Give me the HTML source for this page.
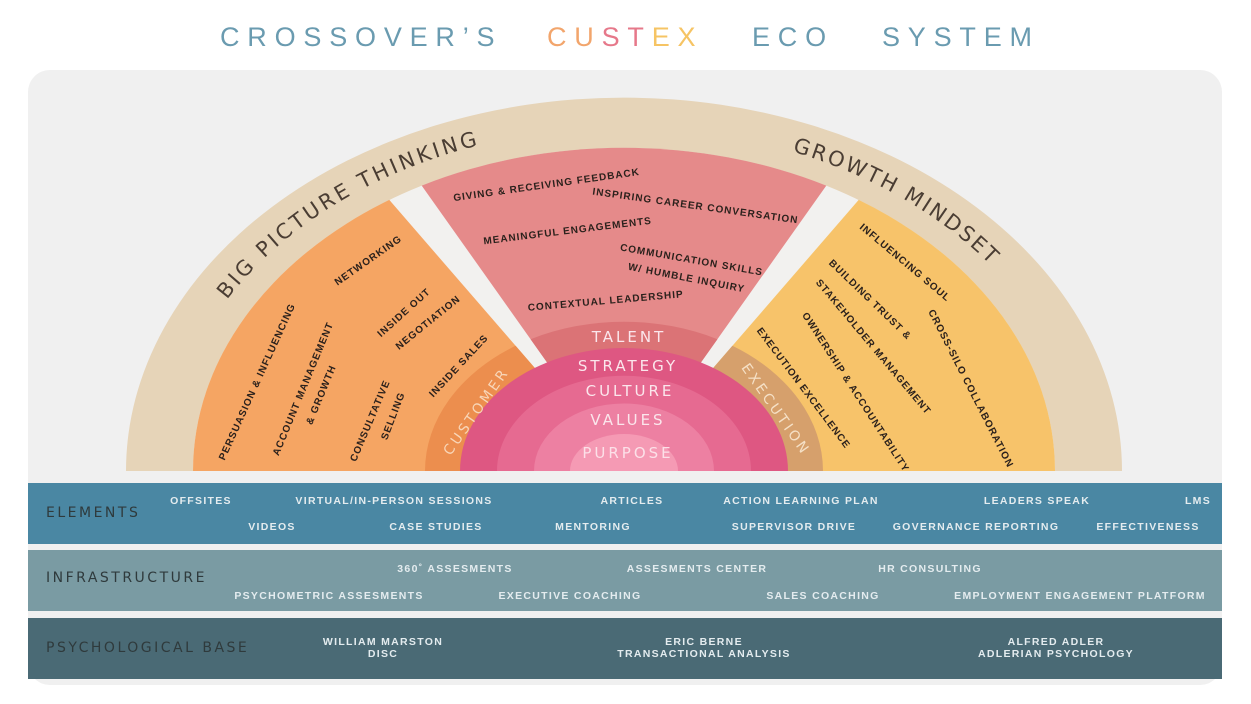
<!DOCTYPE html>
<html><head><meta charset="utf-8"><style>
html,body{margin:0;padding:0;background:#fff;}
svg{display:block;}
.t{font-family:"Liberation Sans",sans-serif;font-weight:bold;font-size:10px;letter-spacing:1px;fill:#2b211c;text-anchor:middle;}
.h{font-family:"DejaVu Sans","Liberation Sans",sans-serif;text-anchor:middle;}
.b{font-family:"Liberation Sans",sans-serif;font-weight:bold;font-size:10.5px;letter-spacing:1.3px;fill:#e4ecef;text-anchor:middle;}
.bl{font-family:"DejaVu Sans","Liberation Sans",sans-serif;font-size:14px;letter-spacing:2.5px;fill:#2f3a3c;}
</style></head><body>
<svg width="1251" height="704" viewBox="0 0 1251 704" xmlns="http://www.w3.org/2000/svg">
<text x="220" y="46" font-family="Liberation Sans, sans-serif" font-size="27" letter-spacing="7.8" fill="#6a9bb0">CROSSOVER’S</text>
<text x="547" y="46" font-family="Liberation Sans, sans-serif" font-size="27" letter-spacing="7.8"><tspan fill="#f2a56c">CU</tspan><tspan fill="#e6788a">ST</tspan><tspan fill="#f6c464">EX</tspan></text>
<text x="752" y="46" font-family="Liberation Sans, sans-serif" font-size="27" letter-spacing="7.8" fill="#6a9bb0">ECO</text>
<text x="882" y="46" font-family="Liberation Sans, sans-serif" font-size="27" letter-spacing="7.8" fill="#6a9bb0">SYSTEM</text>

<rect x="28" y="70" width="1194" height="615" rx="22" fill="#f0f0f0"/>

<path d="M126,471 A498 373.5 0 0 1 1122,471 Z" fill="#e6d4b8"/>
<path d="M193,471 A431 323.25 0 0 1 1055,471 Z" fill="#f2f1ef"/>
<path d="M624,471 L193,471 A431 323.25 0 0 1 389.3,199.9 Z" fill="#f5a563"/>
<path d="M624,471 L421.7,185.6 A431 323.25 0 0 1 826.3,185.6 Z" fill="#e58a8a"/>
<path d="M624,471 L858.7,199.9 A431 323.25 0 0 1 1055,471 Z" fill="#f7c36a"/>
<path d="M624,471 L425,471 A199 149.25 0 0 1 515.6,345.8 Z" fill="#ec8e4e"/>
<path d="M624,471 L530.6,339.2 A199 149.25 0 0 1 717.4,339.2 Z" fill="#db7376"/>
<path d="M624,471 L732.4,345.8 A199 149.25 0 0 1 823,471 Z" fill="#d6a06c"/>
<path d="M460,471 A164 123 0 0 1 788,471 Z" fill="#de5782"/>
<path d="M497,471 A127 95.25 0 0 1 751,471 Z" fill="#e66a91"/>
<path d="M534,471 A90 67.5 0 0 1 714,471 Z" fill="#ed80a2"/>
<path d="M570,471 A54 37 0 0 1 678,471 Z" fill="#f59ab4"/>

<defs><path id="ea" d="M166,471 A458 343.5 0 0 1 1082,471"/></defs>
<text class="h" font-size="21" fill="#4a3d33"><textPath href="#ea" startOffset="335" textLength="300" lengthAdjust="spacing">BIG PICTURE THINKING</textPath></text>
<text class="h" font-size="21" fill="#4a3d33"><textPath href="#ea" startOffset="918" textLength="230" lengthAdjust="spacing">GROWTH MINDSET</textPath></text>

<text class="t" transform="translate(370,263) rotate(-35)">NETWORKING</text>
<text class="t" transform="translate(260,383) rotate(-65.5)">PERSUASION &amp; INFLUENCING</text>
<text class="t" transform="translate(306,390) rotate(-67.5)">ACCOUNT MANAGEMENT</text>
<text class="t" transform="translate(324,396) rotate(-67.5)">&amp; GROWTH</text>
<text class="t" transform="translate(406,315) rotate(-42)">INSIDE OUT</text>
<text class="t" transform="translate(430,325) rotate(-39)">NEGOTIATION</text>
<text class="t" transform="translate(373,422) rotate(-67)">CONSULTATIVE</text>
<text class="t" transform="translate(396,417) rotate(-69)">SELLING</text>
<text class="t" transform="translate(461,368) rotate(-47)">INSIDE SALES</text>
<text class="h" font-size="14" letter-spacing="3" fill="#f8d6b8" transform="translate(480,414) rotate(-55)">CUSTOMER</text>

<text class="t" transform="translate(547,188) rotate(-8)">GIVING &amp; RECEIVING FEEDBACK</text>
<text class="t" transform="translate(695,209) rotate(8)">INSPIRING CAREER CONVERSATION</text>
<text class="t" transform="translate(568,234) rotate(-7)">MEANINGFUL ENGAGEMENTS</text>
<text class="t" transform="translate(691,263) rotate(10)">COMMUNICATION SKILLS</text>
<text class="t" transform="translate(686,281) rotate(11)">W/ HUMBLE INQUIRY</text>
<text class="t" transform="translate(606,304) rotate(-5)">CONTEXTUAL LEADERSHIP</text>

<text class="t" transform="translate(903,265) rotate(40)">INFLUENCING SOUL</text>
<text class="t" transform="translate(868,302) rotate(44)">BUILDING TRUST &amp;</text>
<text class="t" transform="translate(871,349) rotate(50)">STAKEHOLDER MANAGEMENT</text>
<text class="t" transform="translate(968,390) rotate(63)">CROSS-SILO COLLABORATION</text>
<text class="t" transform="translate(853,394) rotate(57)">OWNERSHIP &amp; ACCOUNTABILITY</text>
<text class="t" transform="translate(801,390) rotate(53)">EXECUTION EXCELLENCE</text>
<text class="h" font-size="14" letter-spacing="3" fill="#f5e0c6" transform="translate(772,412) rotate(55)">EXECUTION</text>

<text class="h" font-size="15" letter-spacing="3" fill="#fbe6ec" x="629" y="342">TALENT</text>
<text class="h" font-size="15" letter-spacing="3" fill="#fbe6ec" x="628" y="371">STRATEGY</text>
<text class="h" font-size="15" letter-spacing="3" fill="#fbe6ec" x="630" y="396">CULTURE</text>
<text class="h" font-size="15" letter-spacing="3" fill="#fbe6ec" x="628" y="425">VALUES</text>
<text class="h" font-size="15" letter-spacing="3" fill="#fce0e8" x="628" y="458">PURPOSE</text>

<rect x="28" y="483" width="1194" height="61" fill="#4a87a3"/>
<rect x="28" y="550" width="1194" height="61" fill="#7a9ba3"/>
<rect x="28" y="618" width="1194" height="61" fill="#4a6a75"/>
<text class="bl" x="46" y="517">ELEMENTS</text>
<text class="bl" x="46" y="582">INFRASTRUCTURE</text>
<text class="bl" x="46" y="652">PSYCHOLOGICAL BASE</text>

<text class="b" x="201" y="504">OFFSITES</text>
<text class="b" x="394" y="504">VIRTUAL/IN-PERSON SESSIONS</text>
<text class="b" x="632" y="504">ARTICLES</text>
<text class="b" x="801" y="504">ACTION LEARNING PLAN</text>
<text class="b" x="1037" y="504">LEADERS SPEAK</text>
<text class="b" x="1198" y="504">LMS</text>
<text class="b" x="272" y="530">VIDEOS</text>
<text class="b" x="436" y="530">CASE STUDIES</text>
<text class="b" x="593" y="530">MENTORING</text>
<text class="b" x="794" y="530">SUPERVISOR DRIVE</text>
<text class="b" x="976" y="530">GOVERNANCE REPORTING</text>
<text class="b" x="1148" y="530">EFFECTIVENESS</text>
<text class="b" x="455" y="572">360˚ ASSESMENTS</text>
<text class="b" x="697" y="572">ASSESMENTS CENTER</text>
<text class="b" x="930" y="572">HR CONSULTING</text>
<text class="b" x="329" y="599">PSYCHOMETRIC ASSESMENTS</text>
<text class="b" x="570" y="599">EXECUTIVE COACHING</text>
<text class="b" x="823" y="599">SALES COACHING</text>
<text class="b" x="1080" y="599">EMPLOYMENT ENGAGEMENT PLATFORM</text>
<text class="b" x="383" y="645">WILLIAM MARSTON</text>
<text class="b" x="383" y="657">DISC</text>
<text class="b" x="704" y="645">ERIC BERNE</text>
<text class="b" x="704" y="657">TRANSACTIONAL ANALYSIS</text>
<text class="b" x="1056" y="645">ALFRED ADLER</text>
<text class="b" x="1056" y="657">ADLERIAN PSYCHOLOGY</text>
</svg>
</body></html>
